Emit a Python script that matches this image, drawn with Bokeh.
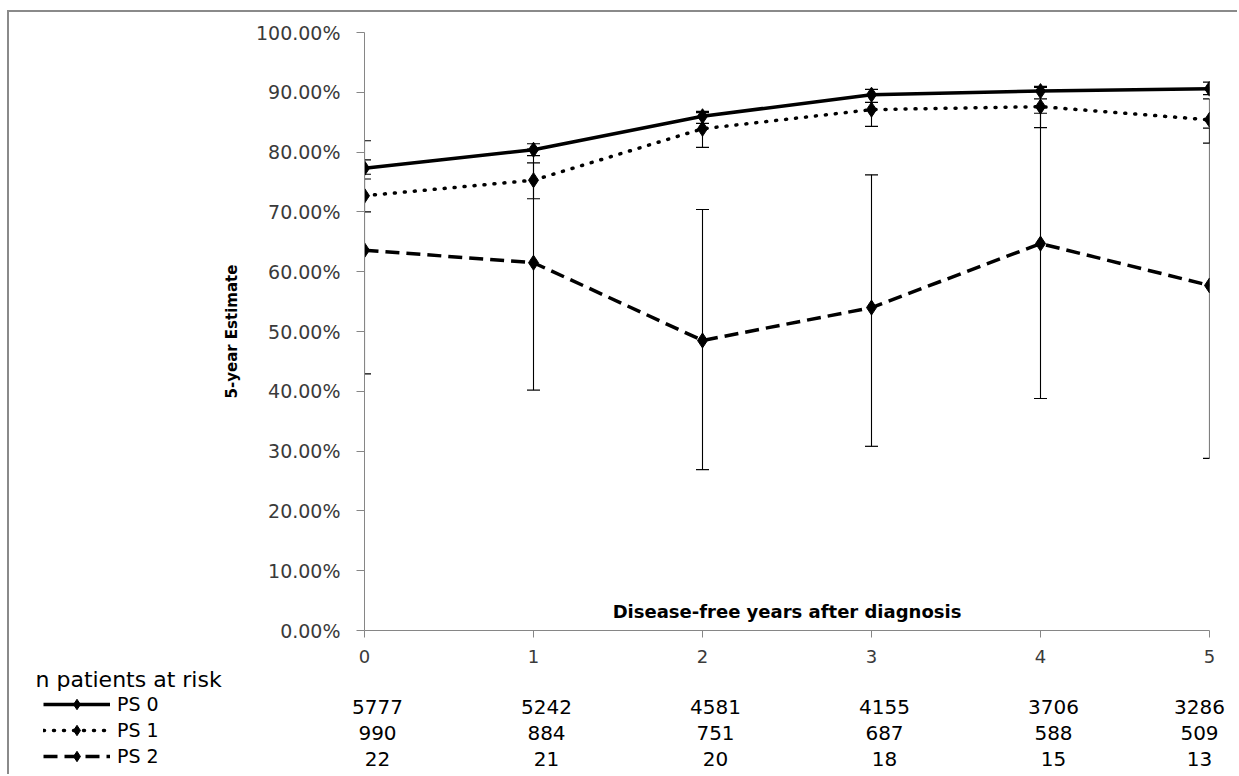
from bokeh.plotting import figure
from bokeh.models import (Range1d, FixedTicker, PrintfTickFormatter, ColumnDataSource,
                          LabelSet, Label, Legend, LegendItem)
from bokeh.core.properties import value
from bokeh.embed import file_html
from bokeh.resources import INLINE

# ---------------- data ----------------
years = [0, 1, 2, 3, 4, 5]

ps0 = [77.3, 80.4, 86.0, 89.6, 90.2, 90.6]
ps0_lo = [76.3, 79.4, 84.8, 88.3, 88.9, 89.6]
ps0_hi = [78.7, 81.4, 86.8, 90.5, 91.0, 91.7]

ps1 = [72.7, 75.3, 83.9, 87.1, 87.6, 85.4]
ps1_lo = [70.0, 72.2, 80.8, 84.3, 84.1, 81.5]
ps1_hi = [75.5, 78.2, 86.6, 89.6, 90.8, 88.9]

ps2 = [63.6, 61.5, 48.5, 54.0, 64.7, 57.7]
ps2_lo = [42.9, 40.2, 26.9, 30.8, 38.8, 28.8]
ps2_hi = [81.9, 80.5, 70.4, 76.2, 86.5, 84.0]

n_ps0 = [5777, 5242, 4581, 4155, 3706, 3286]
n_ps1 = [990, 884, 751, 687, 588, 509]
n_ps2 = [22, 21, 20, 18, 15, 13]

series_names = ["PS 0", "PS 1", "PS 2"]
y_ticks = [0, 10, 20, 30, 40, 50, 60, 70, 80, 90, 100]

# ---------------- styling / layout ----------------
FONT = "DejaVu Sans"
AXIS_GREY = "#868686"
TEXT_GREY = "#3a3a3a"
BORDER = "2px solid #8a8a8a"

W = 1230                 # canvas width (7px margin + 2px border on the left)
LEFT, RIGHT = 355, 30    # frame borders of the chart
TOP, BOTTOM = 20, 40
FRAME_H = 598
H_TOP = TOP + FRAME_H + BOTTOM
H_BOT = 106
px_per_year = (W - LEFT - RIGHT) / (years[-1] - years[0])

col_dx = [13, 13, 13, 13, 13, -10]      # horizontal nudges of risk-table columns (px)
row_y = [68, 42, 16]                    # risk-table rows (px above bottom of lower panel)

# ================= main chart =================
p = figure(width=W, height=H_TOP, output_backend="svg", toolbar_location=None,
           x_range=Range1d(years[0], years[-1]), y_range=Range1d(0, 100),
           min_border_left=LEFT, min_border_right=RIGHT,
           min_border_top=TOP, min_border_bottom=BOTTOM,
           background_fill_color="white", border_fill_color="white")
p.styles = {"margin-left": "7px", "margin-top": "10px",
            "border-top": BORDER, "border-left": BORDER}
p.xgrid.visible = False
p.ygrid.visible = False
p.outline_line_color = None

yax = p.yaxis[0]
yax.ticker = FixedTicker(ticks=y_ticks)
yax.formatter = PrintfTickFormatter(format="%.2f%%")
yax.major_tick_out = 8
yax.major_tick_in = 0
yax.minor_tick_out = 0
yax.minor_tick_in = 0
yax.axis_line_color = AXIS_GREY
yax.major_tick_line_color = AXIS_GREY
yax.major_label_text_font = FONT
yax.major_label_text_font_size = "19px"
yax.major_label_text_color = TEXT_GREY
yax.major_label_standoff = 16
yax.axis_label = "5-year Estimate"
yax.axis_label_text_font = FONT
yax.axis_label_text_font_style = "bold"
yax.axis_label_text_font_size = "15px"
yax.axis_label_text_color = "black"
yax.axis_label_standoff = 12

xax = p.xaxis[0]
xax.ticker = FixedTicker(ticks=years)
xax.major_tick_out = 7
xax.major_tick_in = 0
xax.minor_tick_out = 0
xax.minor_tick_in = 0
xax.axis_line_color = AXIS_GREY
xax.major_tick_line_color = AXIS_GREY
xax.major_label_text_font = FONT
xax.major_label_text_font_size = "18px"
xax.major_label_text_color = TEXT_GREY
xax.major_label_standoff = 12

# error bars
for lo, hi in [(ps2_lo, ps2_hi), (ps1_lo, ps1_hi), (ps0_lo, ps0_hi)]:
    p.segment(x0=years, y0=lo, x1=years, y1=hi, line_color="black", line_width=1.1)
    p.scatter(years, lo, marker="dash", size=13, line_color="black", line_width=1.2)
    p.scatter(years, hi, marker="dash", size=13, line_color="black", line_width=1.2)

LINE_STYLES = [dict(line_dash="solid"),
               dict(line_dash="1 9", line_cap="round"),
               dict(line_dash="14 7")]
series = [ps0, ps1, ps2]
for vals, st in reversed(list(zip(series, LINE_STYLES))):
    p.line(years, vals, line_color="black", line_width=3.5, **st)
for vals in series:
    p.scatter(years, vals, marker="diamond", size=15, color="black")

p.add_layout(Label(x=(years[0] + years[-1]) / 2, y=19, y_units="screen",
                   text="Disease-free years after diagnosis",
                   text_font=FONT, text_font_style="bold", text_font_size="18px",
                   text_color="black", text_align="center", text_baseline="middle"))

# ================= risk table panel (separate root, full-width frame) =================
x_start = years[0] - LEFT / px_per_year
x_end = x_start + W / px_per_year
q = figure(width=W, height=H_BOT, output_backend="svg", toolbar_location=None,
           x_range=Range1d(x_start, x_end), y_range=Range1d(0, 100),
           min_border=0, min_border_left=0, min_border_right=0,
           min_border_top=0, min_border_bottom=0,
           x_axis_location=None, y_axis_location=None,
           background_fill_color="white", border_fill_color="white")
q.styles = {"margin-left": "7px", "border-left": BORDER}
q.xgrid.visible = False
q.ygrid.visible = False
q.outline_line_color = None

items = []
for name, vals, st in zip(series_names, series, LINE_STYLES):
    # hidden copies of the series, used only to draw the legend samples
    rl = q.line(years, vals, line_color="black", line_width=3.5, visible=False, **st)
    rm = q.scatter(years, vals, marker="diamond", size=15, color="black", visible=False)
    items.append(LegendItem(label=name, renderers=[rl, rm]))

legend = Legend(items=items, location=(34, 5), orientation="vertical",
                padding=0, margin=0, spacing=0,
                glyph_width=67, glyph_height=26, label_height=26, label_standoff=7,
                label_text_font=FONT, label_text_font_size="19px", label_text_color="black",
                background_fill_alpha=0, border_line_color=None)
q.add_layout(legend, "center")

q.add_layout(Label(x=26, y=95, x_units="screen", y_units="screen", text="n patients at risk",
                   text_font=FONT, text_font_size="22px", text_color="black",
                   text_align="left", text_baseline="middle"))

for counts, yrow in zip([n_ps0, n_ps1, n_ps2], row_y):
    src = ColumnDataSource(dict(x=years, t=[str(c) for c in counts], dx=col_dx))
    q.add_layout(LabelSet(x="x", y=yrow, y_units="screen", text="t", x_offset="dx", source=src,
                          text_font=value(FONT), text_font_size=value("20px"),
                          text_color=value("black"),
                          text_align="center", text_baseline="middle"))

open("out.html", "w").write(file_html([p, q], INLINE))
